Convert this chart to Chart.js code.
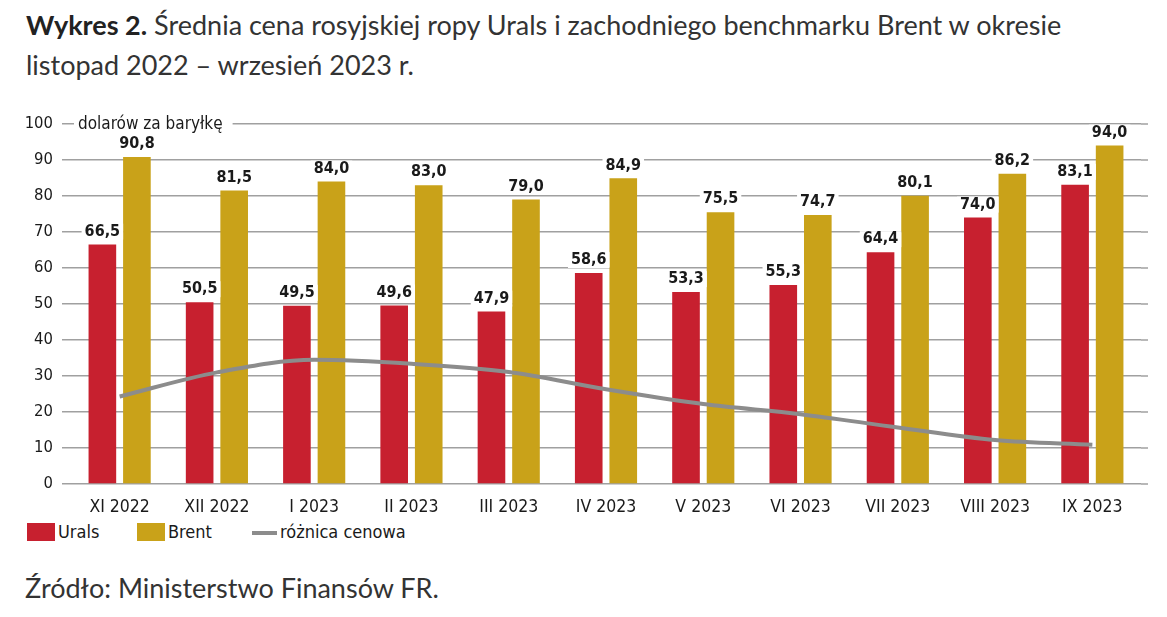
<!DOCTYPE html>
<html lang="pl">
<head>
<meta charset="utf-8">
<script src="https://cdn.jsdelivr.net/npm/chart.js@4.4.0/dist/chart.umd.min.js"></script>
<style>
	body { margin: 0; background: #fff; width: 1167px; height: 617px; overflow: hidden; position: relative; }
	#title { position: absolute; left: 26px; top: 5px; white-space: nowrap; font-family: Lato, sans-serif; font-size: 27px; line-height: 40px; color: #333; }
	#title b { font-weight: 700; color: #222; }
	#chartBox { position: absolute; left: 0; top: 100px; width: 1167px; height: 420px; }
	#legend { position: absolute; left: 27px; top: 521px; font-family: "DejaVu Sans Condensed", sans-serif; font-size: 18px; color: #1a1a1a; }
	#legend span.item { position: absolute; top: 0; white-space: nowrap; line-height: 21px; }
	#legend i { display: inline-block; vertical-align: top; }
	#source { position: absolute; left: 25px; top: 571px; font-family: Lato, sans-serif; font-size: 27px; line-height: normal; color: #333; }
</style>
</head>
<body>
<div id="title"><b>Wykres 2.</b> Średnia cena rosyjskiej ropy Urals i zachodniego benchmarku Brent w okresie<br>listopad 2022 – wrzesień 2023 r.</div>
<div id="chartBox"><canvas id="myCanvas"></canvas></div>
<div id="legend">
	<span class="item" style="left:0"><i style="width:28px;height:18px;background:#C7202F;margin-top:2px;margin-right:3px"></i>Urals</span>
	<span class="item" style="left:110px"><i style="width:28px;height:18px;background:#C9A219;margin-top:2px;margin-right:3px"></i>Brent</span>
	<span class="item" style="left:225px"><i style="width:25px;height:4px;background:#8C8C8C;margin-top:10px;margin-right:3px"></i>różnica cenowa</span>
</div>
<div id="source">Źródło: Ministerstwo Finansów FR.</div>
<script>
const chartFont = '"DejaVu Sans Condensed", sans-serif';

let months = ["XI 2022", "XII 2022", "I 2023", "II 2023", "III 2023", "IV 2023", "V 2023", "VI 2023", "VII 2023", "VIII 2023", "IX 2023"];
let uralsList = [66.5, 50.5, 49.5, 49.6, 47.9, 58.6, 53.3, 55.3, 64.4, 74.0, 83.1];
let brentList = [90.8, 81.5, 84.0, 83.0, 79.0, 84.9, 75.5, 74.7, 80.1, 86.2, 94.0];
let diffList = [24.3, 31.0, 34.5, 33.4, 31.1, 26.3, 22.2, 19.4, 15.7, 12.2, 10.9];
let yTicks = [0, 10, 20, 30, 40, 50, 60, 70, 80, 90, 100];
let unitLabel = "dolarów za baryłkę";

// gridlines reach a bit past the right edge of the bars
const gridRight = {
	id: "gridRight",
	beforeDatasetsDraw(chart) {
		const y = chart.scales.y;
		const c = chart.ctx;
		c.save();
		c.strokeStyle = "#a0a0a0";
		c.lineWidth = 1.5;
		yTicks.forEach((v) => {
			const py = y.getPixelForValue(v);
			c.beginPath();
			c.moveTo(chart.chartArea.right, py);
			c.lineTo(chart.chartArea.right + 7, py);
			c.stroke();
		});
		c.restore();
	},
};

// values above bars + unit label on the 100 line
const barLabels = {
	id: "barLabels",
	afterDatasetsDraw(chart) {
		const c = chart.ctx;
		c.save();
		c.font = "bold 16px " + chartFont;
		c.textAlign = "center";
		c.textBaseline = "bottom";
		[1, 2].forEach((di) => {
			const meta = chart.getDatasetMeta(di);
			const data = chart.data.datasets[di].data;
			meta.data.forEach((bar, i) => {
				const txt = data[i].toFixed(1).replace(".", ",");
				const w = c.measureText(txt).width;
				c.fillStyle = "#fff";
				c.fillRect(bar.x - w / 2 - 3, bar.y - 21, w + 6, 16);
				c.fillStyle = "#1a1a1a";
				c.fillText(txt, bar.x, bar.y - 5);
			});
		});
		const y100 = chart.scales.y.getPixelForValue(100);
		c.font = "17px " + chartFont;
		c.textAlign = "left";
		c.textBaseline = "middle";
		const w = c.measureText(unitLabel).width;
		const x0 = chart.chartArea.left + 7;
		c.fillStyle = "#fff";
		c.fillRect(x0 - 4, y100 - 9, w + 14, 18);
		c.fillStyle = "#1a1a1a";
		c.fillText(unitLabel, x0, y100 + 1);
		c.restore();
	},
};

const ctx = document.getElementById("myCanvas").getContext("2d");
const myChart = new Chart(ctx, {
	type: "bar",
	data: {
		labels: months,
		datasets: [
			{
				type: "line",
				label: "różnica cenowa",
				data: diffList,
				borderColor: "#8C8C8C",
				borderWidth: 4,
				pointRadius: 0,
				tension: 0.4,
				cubicInterpolationMode: "monotone",
				order: 0,
			},
			{
				label: "Urals",
				data: uralsList,
				backgroundColor: "#C7202F",
				barPercentage: 0.8,
				categoryPercentage: 0.71,
				order: 1,
			},
			{
				label: "Brent",
				data: brentList,
				backgroundColor: "#C9A219",
				barPercentage: 0.8,
				categoryPercentage: 0.71,
				order: 1,
			},
		],
	},
	plugins: [gridRight, barLabels],
	options: {
		responsive: true,
		maintainAspectRatio: false,
		animation: false,
		layout: { padding: { top: 24, right: 26, left: 0, bottom: 0 } },
		plugins: {
			legend: { display: false },
			tooltip: { enabled: false },
		},
		scales: {
			x: {
				grid: { display: false },
				border: { display: false },
				ticks: {
					color: "#1a1a1a",
					font: { family: chartFont, size: 17.5 },
					padding: 5,
					maxRotation: 0,
				},
				afterFit: (scale) => { scale.height = 36; },
			},
			y: {
				min: 0,
				max: 100,
				afterBuildTicks: (scale) => { scale.ticks = yTicks.map((v) => ({ value: v })); },
				grid: { color: "#a0a0a0", lineWidth: 1.5, tickLength: 9, drawTicks: true },
				border: { display: false },
				ticks: {
					color: "#1a1a1a",
					font: { family: chartFont, size: 16.5 },
					padding: 9,
				},
				afterFit: (scale) => { scale.width = 71; },
			},
		},
	},
});
</script>
</body>
</html>
